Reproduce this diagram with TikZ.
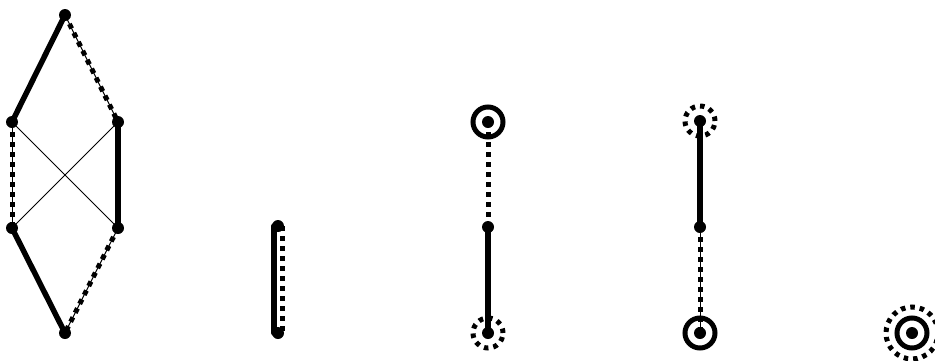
\documentclass[tikz,border=0pt]{standalone}
\usetikzlibrary{backgrounds}
\tikzset{
 vtx/.style={circle,fill=black,inner sep=0pt,minimum size=12pt},
 thickedge/.style={line width=5.5pt},
 thinedge/.style={line width=1pt},
 dotedge/.style={line width=5pt,dash pattern=on 5pt off 5pt},
 ringsolid/.style={circle,draw,line width=5pt,minimum size=30pt,inner sep=0pt},
 ringdot/.style={circle,draw,line width=5pt,dash pattern=on 4.5pt off 5pt,minimum size=30pt,inner sep=0pt},
 bigringdot/.style={ringdot,minimum size=52pt},
}
\begin{document}
\begin{tikzpicture}[x=1pt,y=-1pt]
\useasboundingbox (0,0) rectangle (935,360);
% diamond
\node[vtx] (a) at (65,15) {};
\node[vtx] (b) at (12,122) {};
\node[vtx] (c) at (118,122) {};
\node[vtx] (d) at (12,228) {};
\node[vtx] (e) at (118,228) {};
\node[vtx] (f) at (65,333) {};
% double edge
\node[vtx] (m1) at (278,226) {};
\node[vtx] (m2) at (278,333) {};
% third
\node[vtx] (p1) at (488,122) {};
\node[vtx] (p2) at (488,227) {};
\node[vtx] (p3) at (488,333) {};
\node[ringsolid] (rp1) at (p1.center) {};
\node[ringdot] (rp3) at (p3.center) {};
% fourth
\node[vtx] (q1) at (700,121) {};
\node[vtx] (q2) at (700,227) {};
\node[vtx] (q3) at (700,333) {};
\node[ringdot] (rq1) at (q1.center) {};
\node[ringsolid] (rq3) at (q3.center) {};
% fifth
\node[vtx] (s) at (912,333) {};
\node[ringsolid] (rs1) at (s.center) {};
\node[bigringdot] (rs2) at (s.center) {};
\begin{scope}[on background layer]
\draw[thinedge] (a.center) -- (c.center);
\draw[thinedge] (b.center) -- (d.center);
\draw[thinedge] (b.center) -- (e.center);
\draw[thinedge] (d.center) -- (c.center);
\draw[thinedge] (e.center) -- (f.center);
\draw[thickedge] (a.center) -- (b.center);
\draw[dotedge] (a.center) -- (c.center);
\draw[dotedge] (b.center) -- (d.center);
\draw[thickedge] (c.center) -- (e.center);
\draw[thickedge] (d.center) -- (f.center);
\draw[dotedge] (e.center) -- (f.center);
\draw[thickedge,line cap=round] ([xshift=-4pt]m1.center) -- ([xshift=-4pt]m2.center);
\draw[dotedge] ([xshift=4pt]m1.center) -- ([xshift=4pt]m2.center);
\draw[dotedge] (p1.center) -- (p2.center);
\draw[thickedge] (p2.center) -- (p3.center);
\draw[thickedge] (q1.center) -- (q2.center);
\draw[thinedge] (q2.center) -- (q3.center);
\draw[dotedge] (q2.center) -- (q3.center);
\end{scope}
\end{tikzpicture}
\end{document}
